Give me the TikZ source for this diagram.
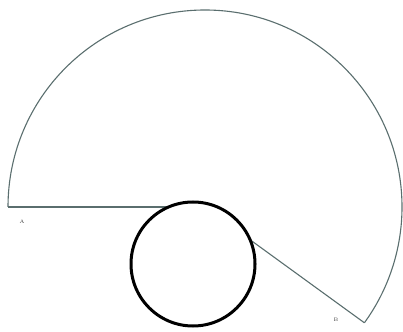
\documentclass[tikz,border=0pt]{standalone}
\usetikzlibrary{calc}
\begin{document}
\begin{tikzpicture}[x=1pt,y=1pt,
  thinline/.style={draw={rgb,255:red,90;green,110;blue,110},line width=1.1pt},
  wheel/.style={draw=black,line width=3pt,fill=white},
  lbl/.style={font=\fontsize{5}{5}\selectfont,text={rgb,255:red,60;green,60;blue,60},inner sep=0pt}]
\useasboundingbox (0,0) rectangle (403,331);
\coordinate (O) at (205,124);
\coordinate (A) at (8,124);
\coordinate (B) at ($(O)+(-36:197)$);
\draw[thinline] (A) arc[start angle=180,end angle=-36,radius=197];
\draw[thinline] (A) -- (O);
\draw[thinline] (B) -- (O);
\node[wheel,circle,minimum size=124pt,inner sep=0pt] (C) at (193,67) {};
\node[lbl] (la) at (22,109) {A};
\node[lbl] (lb) at (336,11) {B};
\end{tikzpicture}
\end{document}
